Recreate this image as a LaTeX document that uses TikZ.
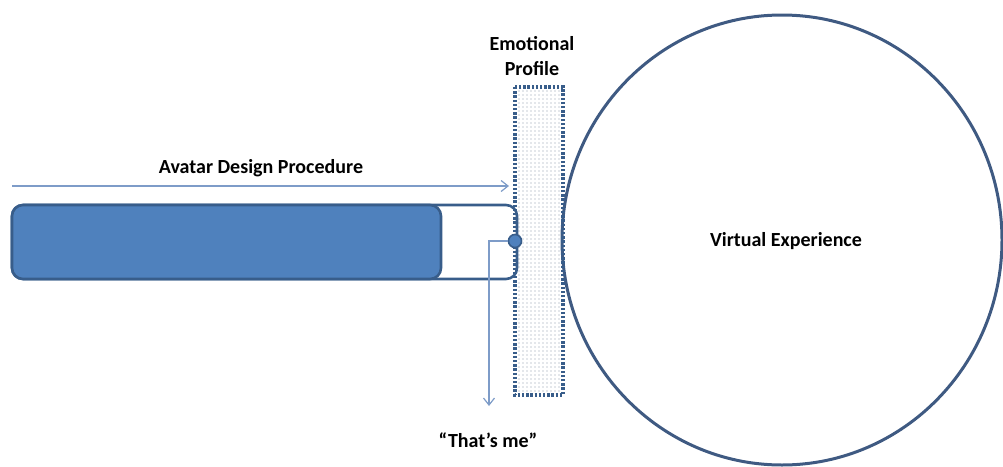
\documentclass[tikz,border=0pt]{standalone}
\usepackage{fontspec}
\setmainfont{Carlito}
\usetikzlibrary{arrows.meta}
\definecolor{barfill}{HTML}{4F81BD}
\definecolor{barline}{HTML}{385D8A}
\definecolor{ringline}{HTML}{3F5A82}
\definecolor{flowline}{HTML}{7E9CC8}
\definecolor{dotgrey}{HTML}{8C96A8}
\tikzset{
  lbl/.style={font=\bfseries\fontsize{20}{25}\selectfont, text=black, align=center, inner sep=0pt},
  flow/.style={draw=flowline, line width=1.2pt, -{Straight Barb[length=7pt,width=11pt]}},
}
\begin{document}
\begin{tikzpicture}[x=1pt,y=-1pt]
\useasboundingbox (0,0) rectangle (1003,466);

% virtual experience region
\draw[ringline, line width=3pt] (782,240) ellipse [x radius=220, y radius=225];
\node[lbl] (ve) at (786,241) {Virtual Experience};

% emotional profile strip: stippled fill and dotted frame
\foreach \i in {0,...,10}{
  \foreach \j in {0,...,75}{
    \fill[dotgrey] (519+4*\i,91+4*\j) circle [radius=0.7pt];
  }
}
\draw[barline, line width=3.6pt, dash pattern=on 2.4pt off 1.8pt] (515,87) rectangle (563,395);
\node[lbl] (eplbl) at (532,56) {Emotional\\Profile};

% avatar design track
\draw[barline, line width=2.6pt, rounded corners=11pt] (12,205) rectangle (517,279);
\draw[barline, fill=barfill, line width=2.6pt, rounded corners=11pt] (12,205) rectangle (441,279);
\node[circle, fill=barfill, draw=barline, line width=1.6pt, minimum size=13pt, inner sep=0pt] (pt) at (515,241) {};

\coordinate (adstart) at (12,186);
\coordinate (adend) at (509,186);
\draw[flow] (adstart) -- (adend);
\node[lbl] (adp) at (261,168) {Avatar Design Procedure};

% identification outcome
\node[lbl] (me) at (488,440) {“That’s me”};
\coordinate (metip) at (489,406);
\draw[flow] (pt.west) -| (metip);
\end{tikzpicture}
\end{document}
